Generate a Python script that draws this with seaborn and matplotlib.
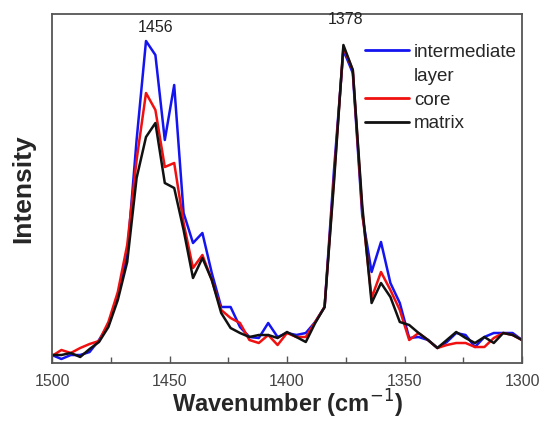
import matplotlib
matplotlib.use("Agg")
import matplotlib.pyplot as plt
from matplotlib.lines import Line2D
from matplotlib.ticker import MultipleLocator
import pandas as pd
import seaborn as sns

# wavenumber grid (cm-1), 4 cm-1 steps from 1500 down to 1300
wavenumber = list(range(1500, 1299, -4))

# intensities (arbitrary units)
intermediate = [8, 4, 8, 8, 11, 23, 38, 66, 108, 223,
                322, 308, 223, 278, 150, 120, 130, 90, 56, 56,
                36, 26, 25, 40, 26, 30, 28, 30, 41, 56,
                193, 313, 290, 148, 91, 121, 80, 60, 25, 26,
                23, 15, 21, 30, 28, 16, 26, 30, 30, 30, 23]
core = [7, 13, 10, 15, 19, 22, 41, 71, 118, 203,
        270, 253, 196, 200, 140, 95, 108, 83, 53, 45,
        40, 23, 20, 28, 18, 30, 26, 26, 41, 56,
        185, 316, 293, 153, 65, 91, 73, 53, 23, 30,
        23, 15, 18, 20, 20, 16, 16, 25, 30, 28, 23]
matrix = [8, 8, 10, 6, 14, 21, 36, 63, 101, 185,
          226, 240, 180, 175, 133, 85, 105, 83, 50, 35,
          30, 26, 28, 28, 25, 31, 26, 21, 40, 56,
          181, 318, 293, 158, 60, 80, 66, 41, 38, 30,
          23, 15, 23, 31, 25, 20, 26, 20, 30, 28, 23]

series_names = ["intermediate layer", "core", "matrix"]
colors = ["#1414f0", "#f01010", "#111111"]
peak_labels = ["1456", "1378"]
peak_pos = [1456, 1375]

df = pd.DataFrame({
    "wavenumber": wavenumber * 3,
    "intensity": intermediate + core + matrix,
    "sample": [series_names[0]] * len(wavenumber)
              + [series_names[1]] * len(wavenumber)
              + [series_names[2]] * len(wavenumber),
})

sns.set_style("white")
plt.rcParams["font.family"] = ["Liberation Sans", "DejaVu Sans"]

fig = plt.figure(figsize=(5.44, 4.21), dpi=100)
ax = fig.add_axes([52 / 544, 58 / 421, 470 / 544, 349 / 421])

sns.lineplot(data=df, x="wavenumber", y="intensity", hue="sample",
             hue_order=series_names, palette=colors, linewidth=1.8,
             ax=ax, legend=False)

ax.set_xlim(1500, 1300)
ax.set_ylim(0, 349)
ax.xaxis.set_major_locator(MultipleLocator(50))
ax.xaxis.set_minor_locator(MultipleLocator(25))
ax.tick_params(axis="x", which="both", direction="in", bottom=True,
               length=4, width=1, colors="#555555", labelsize=11.5,
               labelcolor="#444444", pad=8)
ax.tick_params(axis="x", which="major", length=5)
ax.set_yticks([])
for sp in ax.spines.values():
    sp.set_color("#555555")
    sp.set_linewidth(1.3)

ax.set_xlabel("Wavenumber (cm$^{-1}$)", fontsize=17, fontweight="bold",
              labelpad=-1)
ax.set_ylabel("Intensity", fontsize=19, fontweight="bold", labelpad=12)

for lab, pos, yy in zip(peak_labels, peak_pos, [335, 343]):
    ax.text(pos, yy, lab, ha="center", va="center", fontsize=11.5,
            color="#222222")

# legend: handle aligned with the first line of "intermediate layer"
handles = [Line2D([], [], color=colors[0], lw=2),
           Line2D([], [], color="none"),
           Line2D([], [], color=colors[1], lw=2),
           Line2D([], [], color=colors[2], lw=2)]
labels = ["intermediate", "layer", "core", "matrix"]
ax.legend(handles, labels, loc="upper left", bbox_to_anchor=(0.667, 0.915),
          frameon=False, fontsize=13.5, handlelength=2.3, handletextpad=0.3,
          labelspacing=0.36, borderpad=0, borderaxespad=0)

fig.savefig("out.png", dpi=100)
